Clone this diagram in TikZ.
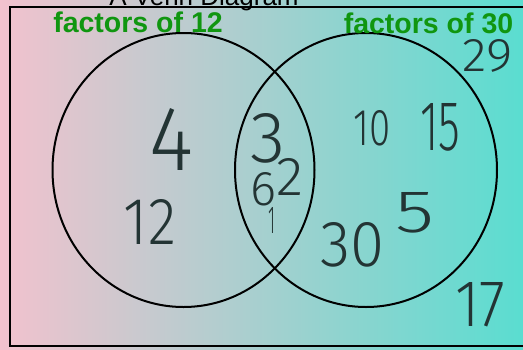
\documentclass[tikz,border=0pt]{standalone}
\usepackage{fontspec}
\setmainfont{Liberation Sans}
\newfontfamily\hand{Fira Sans Light}
\usetikzlibrary{shapes.geometric}
\definecolor{bgpink}{RGB}{242,194,206}
\definecolor{bgteal}{RGB}{90,221,208}
\definecolor{labgreen}{RGB}{16,150,16}
\definecolor{ink}{RGB}{35,52,52}
\newcommand{\hw}[3]{\resizebox{#1pt}{#2pt}{\hand #3}}
\tikzset{
  setcirc/.style={ellipse, draw=black, line width=2pt, minimum width=262pt, minimum height=274pt, inner sep=0},
  setlabel/.style={anchor=base, text=labgreen, font=\bfseries\fontsize{28.5pt}{30pt}\selectfont, inner sep=0},
  titletext/.style={anchor=base, text=black, font=\fontsize{26pt}{28pt}\selectfont, inner sep=0},
  num/.style={text=ink, inner sep=0}
}
\begin{document}
\begin{tikzpicture}[x=1pt,y=-1pt]
\useasboundingbox (0,0) rectangle (523,349);
\clip (0,0) rectangle (523,349);
\shade[left color=bgpink, right color=bgteal] (0,0) rectangle (523,349);
\node[titletext] (title) at (204,5) {A Venn Diagram};
\draw[line width=2pt] (9.5,7) rectangle (540,346);
\node[setcirc] (A) at (183.5,170) {};
\node[setcirc] (B) at (366,170) {};
\node[setlabel] (la) at (138,32) {factors of 12};
\node[setlabel] (lb) at (428.5,33) {factors of 30};
% only in A
\node[num] (n4) at (172,139) {\hw{44}{62}{4}};
\node[num] (n12) at (150,222) {\hw{52}{45}{12}};
% both
\node[num] (n3) at (268,138) {\hw{35}{49}{3}};
\node[num] (n2) at (290,177) {\hw{27}{37}{2}};
\node[num] (n6) at (264,189) {\hw{26}{33}{6}};
\node[num] (n1) at (272,220) {\hw{7}{26}{1}};
% only in B
\node[num] (n10) at (372,128) {\hw{37}{35}{10}};
\node[num] (n15) at (440,127) {\hw{40}{47}{15}};
\node[num] (n5) at (415,213) {\hw{39}{40}{5}};
\node[num] (n30) at (352,245) {\hw{64}{44}{30}};
% outside
\node[num] (n29) at (488,56) {\hw{50}{32}{29}};
\node[num] (n17) at (480,305) {\hw{50}{44}{17}};
\end{tikzpicture}
\end{document}
